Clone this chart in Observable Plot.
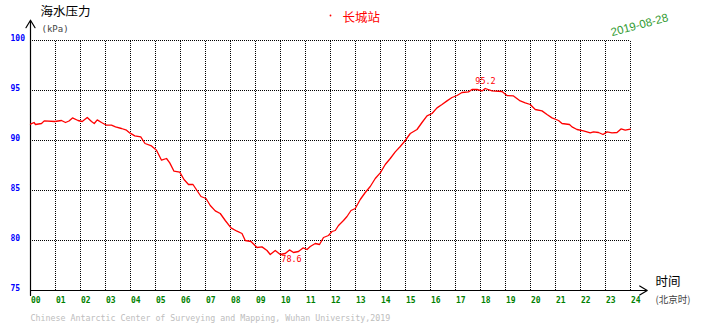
<!DOCTYPE html>
<html>
<head>
<meta charset="utf-8">
<script src="https://cdn.jsdelivr.net/npm/d3@7"></script>
<script src="https://cdn.jsdelivr.net/npm/@observablehq/plot@0.6"></script>
<style>
  html, body { margin: 0; padding: 0; background: #fff; }
  #chart svg { display: block; }
</style>
</head>
<body>
<div id="chart"></div>
<script>
// ---- data ----
const hours = [0.00,0.14,0.20,0.44,0.55,0.97,1.24,1.40,1.54,1.68,1.90,2.07,2.27,2.44,2.55,2.67,2.84,3.04,3.24,3.40,3.64,3.84,3.97,4.17,4.41,4.58,4.84,5.04,5.24,5.44,5.57,5.74,5.97,6.14,6.32,6.50,6.66,6.82,7.02,7.19,7.39,7.59,7.79,8.02,8.26,8.46,8.59,8.82,9.06,9.26,9.46,9.59,9.79,9.99,10.19,10.36,10.52,10.72,10.90,11.06,11.19,11.39,11.56,11.72,11.92,12.06,12.19,12.32,12.52,12.66,12.82,12.99,13.19,13.39,13.59,13.79,13.99,14.19,14.39,14.59,14.79,14.99,15.19,15.46,15.66,15.86,16.06,16.26,16.46,16.66,16.86,17.06,17.26,17.52,17.66,17.86,18.06,18.19,18.46,18.86,19.06,19.32,19.59,19.79,19.99,20.19,20.46,20.66,20.86,21.12,21.26,21.56,21.66,21.86,22.12,22.39,22.52,22.72,22.90,23.06,23.26,23.46,23.62,23.79,23.99];
const pressure = [91.63,91.80,91.60,91.70,91.96,91.90,92.00,91.80,91.95,92.26,92.00,91.90,92.30,91.90,91.70,92.06,91.80,91.53,91.53,91.36,91.20,91.03,90.76,90.46,90.36,89.70,89.46,89.03,88.03,88.20,87.76,86.93,86.83,86.10,85.60,85.60,85.00,84.40,84.20,83.50,82.96,82.70,82.00,81.26,80.93,80.70,80.00,79.90,79.30,79.36,79.00,78.60,79.00,78.60,78.70,79.06,78.80,78.90,79.26,79.10,79.40,79.70,79.60,80.30,80.50,80.90,81.00,81.50,82.00,82.40,83.00,83.20,84.10,84.80,85.40,86.20,86.76,87.60,88.20,88.86,89.40,90.00,90.70,91.10,91.80,92.46,92.70,93.26,93.60,93.96,94.30,94.50,94.80,94.86,95.10,95.10,94.96,95.20,94.96,94.90,94.50,94.46,93.96,93.76,93.60,93.10,92.96,92.60,92.26,92.00,91.70,91.60,91.36,91.10,90.96,90.76,90.86,90.80,90.60,90.86,90.76,90.80,91.16,91.03,91.13];

const xTicks = d3.range(0, 25);              // 00 .. 24
const xTickLabels = xTicks.map(h => String(h).padStart(2, "0"));
const yTicks = [75, 80, 85, 90, 95, 100];
const gridHours = d3.range(1, 25);
const gridValues = [80, 85, 90, 95, 100];

const annoHours = [18.2, 10.44];
const annoValues = [95.2, 78.6];
const annoLabels = ["95.2", "78.6"];
const annoOffsets = [-7, 5];

const titleText = "海水压力";
const unitText = "(kPa)";
const stationText = "长城站";
const dateText = "2019-08-28";
const xTitleText = "时间";
const xUnitText = "(北京时)";
const footerText = "Chinese Antarctic Center of Surveying and Mapping, Wuhan University,2019";

// ---- build ----
const series = hours.map((h, i) => ({h, v: pressure[i]}));
const annos = annoHours.map((h, i) => ({h, v: annoValues[i], label: annoLabels[i], off: annoOffsets[i]}));

const xDomain = [0, 24];
const yDomain = [75, 100];
const mono = "'DejaVu Sans Mono', 'Liberation Mono', monospace";
const cjk = "'Noto Sans CJK SC', 'Noto Sans', sans-serif";

const chart = Plot.plot({
  width: 710,
  height: 328,
  marginLeft: 30,
  marginRight: 80,
  marginTop: 40,
  marginBottom: 38,
  x: {domain: xDomain, axis: null},
  y: {domain: yDomain, axis: null},
  style: {background: "#fff"},
  marks: [
    // dotted grid
    Plot.ruleX(gridHours, {x: d => d, y1: yDomain[0], y2: yDomain[1], stroke: "#000", strokeDasharray: "1,1", shapeRendering: "crispEdges"}),
    Plot.ruleY(gridValues, {y: d => d, x1: xDomain[0], x2: xDomain[1], stroke: "#000", strokeDasharray: "1,1", shapeRendering: "crispEdges"}),
    // axes with arrows
    Plot.arrow([0], {x1: 0, x2: 0, y1: yDomain[0] - 0.5, y2: yDomain[1] + 2.03, stroke: "#000", strokeWidth: 1.2, headLength: 11, headAngle: 62}),
    Plot.arrow([0], {x1: 0, x2: xDomain[1] + 0.67, y1: yDomain[0], y2: yDomain[0], stroke: "#000", strokeWidth: 1.2, headLength: 11, headAngle: 62}),
    // data line
    Plot.line(series, {x: "h", y: "v", stroke: "#ff0000", strokeWidth: 1.3}),
    // max / min annotations (offset applied in value units: 10px per kPa)
    Plot.text(annos, {x: "h", y: d => d.v - d.off / 10, text: "label", fill: "#ff0000", fontSize: 8.5, fontFamily: mono}),
    // y tick labels
    Plot.text(yTicks, {y: d => d, text: d => String(d), frameAnchor: "left", dx: -20, dy: -2.5, textAnchor: "start", fill: "#0000ff", fontSize: 8, fontWeight: "bold", fontFamily: mono}),
    // x tick labels
    Plot.text(xTicks, {x: d => d, text: (d, i) => xTickLabels[i], frameAnchor: "bottom", dy: 12, dx: 0.5, textAnchor: "start", fill: "#008000", fontSize: 8, fontWeight: "bold", fontFamily: mono}),
    // titles
    Plot.text([titleText], {text: d => d, frameAnchor: "top-left", dx: 10, dy: -33, textAnchor: "start", fontSize: 12.5, fontFamily: cjk, fill: "#000"}),
    Plot.text([unitText], {text: d => d, frameAnchor: "top-left", dx: 11, dy: -15, textAnchor: "start", fontSize: 9, fontFamily: mono, fill: "#444"}),
    Plot.dot([0], {frameAnchor: "top", dy: -25, r: 0.9, fill: "#ff0000", stroke: "none"}),
    Plot.text([stationText], {text: d => d, frameAnchor: "top", dx: 12, dy: -27, textAnchor: "start", fontSize: 12.5, fontFamily: cjk, fill: "#ff0000"}),
    // rotated date, placed just above the top-right corner of the frame
    Plot.text([dateText], {text: d => d, x: () => xDomain[1] + 0.36, y: () => yDomain[1] + 1.55, rotate: -15, fontSize: 11.5, fontFamily: "'Liberation Sans', Arial, sans-serif", fill: "#2f9a2f", clip: false}),
    Plot.text([xTitleText], {text: d => d, frameAnchor: "bottom-right", dx: 25, dy: -5, textAnchor: "start", fontSize: 12.5, fontFamily: cjk, fill: "#000"}),
    Plot.text([xUnitText], {text: d => d, frameAnchor: "bottom-right", dx: 25, dy: 12, textAnchor: "start", fontSize: 9.5, fontFamily: cjk, fill: "#444"}),
    Plot.text([footerText], {text: d => d, frameAnchor: "bottom-left", dx: 0, dy: 30, textAnchor: "start", fontSize: 8.3, fontFamily: mono, fill: "#bdbdbd"})
  ]
});

document.getElementById("chart").appendChild(chart);
</script>
</body>
</html>
